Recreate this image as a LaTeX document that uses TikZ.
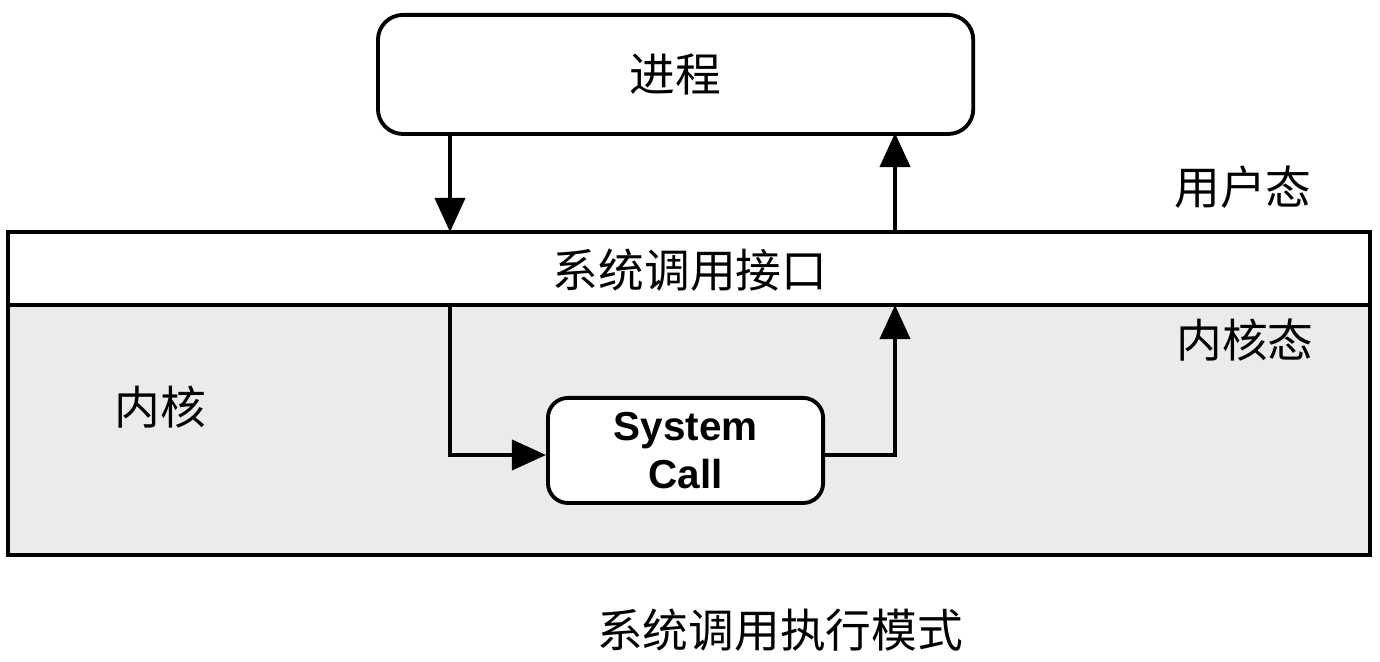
\documentclass[tikz,border=0pt]{standalone}
\usepackage{fontspec}
\newfontfamily\cjk{Noto Sans CJK SC}
\newfontfamily\lsans{Liberation Sans}
\usetikzlibrary{arrows.meta}
\begin{document}
\begin{tikzpicture}[x=0.01cm,y=-0.01cm,
  tip/.style={-{Triangle[length=0.34cm,width=0.3cm]}},
  ln/.style={line width=1.1pt},
  lbl/.style={font=\cjk\fontsize{13}{15}\selectfont}]
\useasboundingbox (0,0) rectangle (1380,662);
\fill[white] (0,0) rectangle (1380,662);
% kernel region
\draw[ln,fill=black!8] (8,305) rectangle (1370,555);
\draw[ln,fill=white] (8,232) rectangle (1370,305);
\node[lbl] (apit) at (690,270) {系统调用接口};
\node[draw,ln,rounded corners=0.25cm,fill=white,minimum width=5.95cm,minimum height=1.19cm,anchor=north west] (proc) at (376,13) {};
\node[lbl] at (proc.center) {进程};
\node[draw,ln,rounded corners=0.2cm,fill=white,minimum width=2.75cm,minimum height=1.05cm,anchor=north west,align=center,font=\lsans\bfseries\fontsize{11.5}{13.5}\selectfont] (sc) at (546,396) {System\\Call};
\node[lbl] (user) at (1243,187) {用户态};
\node[lbl] (kst) at (1245,340) {内核态};
\node[lbl] (kern) at (160,407) {内核};
\node[lbl] (cap) at (780,630) {系统调用执行模式};
\coordinate (a1) at (450,133);
\coordinate (a2) at (450,232);
\coordinate (b1) at (895,232);
\coordinate (b2) at (895,133);
\draw[ln,tip] (a1) -- (a2);
\draw[ln,tip] (b1) -- (b2);
\coordinate (c1) at (450,305);
\coordinate (c2) at (450,455);
\coordinate (d1) at (822,455);
\coordinate (d2) at (895,455);
\coordinate (d3) at (895,305);
\draw[ln,tip] (c1) -- (c2) -- (sc.west |- c2);
\draw[ln,tip] (d1) -- (d2) -- (d3);
\end{tikzpicture}
\end{document}
